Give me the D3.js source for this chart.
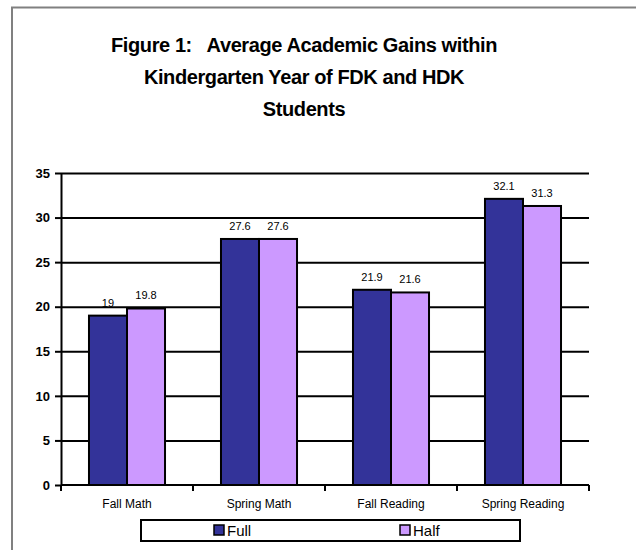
<!DOCTYPE html>
<html>
<head>
<meta charset="utf-8">
<script src="https://cdn.jsdelivr.net/npm/d3@7"></script>
<style>
  body { margin: 0; background: #fff; }
  text { font-family: Arial, "Liberation Sans", sans-serif; }
</style>
</head>
<body>
<div id="chart"></div>
<script>
// data
const categories = ["Fall Math", "Spring Math", "Fall Reading", "Spring Reading"];
const seriesNames = ["Full", "Half"];
const fullValues = [19, 27.6, 21.9, 32.1];
const halfValues = [19.8, 27.6, 21.6, 31.3];
const yTicks = [0, 5, 10, 15, 20, 25, 30, 35];
const titleLines = [
  "Figure 1:   Average Academic Gains within",
  "Kindergarten Year of FDK and HDK",
  "Students"
];
const colors = ["#333399", "#CC99FF"];

const W = 636, H = 550;
const plot = { left: 61, right: 589, top: 173, bottom: 485 };

const svg = d3.select("#chart").append("svg")
  .attr("width", W)
  .attr("height", H);

svg.append("rect").attr("width", W).attr("height", H).attr("fill", "#fff");

// chart area frame (runs past the right and bottom edge)
svg.append("rect")
  .attr("x", 12).attr("y", 7.5)
  .attr("width", 700).attr("height", 600)
  .attr("fill", "none")
  .attr("stroke", "#808080")
  .attr("stroke-width", 2);

// title
svg.append("g").selectAll("text")
  .data(titleLines)
  .join("text")
  .attr("x", 304)
  .attr("y", (d, i) => 52 + i * 32)
  .attr("text-anchor", "middle")
  .attr("font-size", 20)
  .attr("font-weight", "bold")
  .attr("letter-spacing", -0.4)
  .style("white-space", "pre")
  .text(d => d);

// scales
const y = d3.scaleLinear().domain([0, 35]).range([plot.bottom, plot.top]);
const x0 = d3.scaleBand().domain(categories)
  .range([plot.left, plot.right])
  .paddingInner(0.424).paddingOuter(0.212);
const x1 = d3.scaleBand().domain(seriesNames).range([0, x0.bandwidth()]);

// gridlines
svg.append("g")
  .attr("transform", `translate(${plot.left},0)`)
  .call(d3.axisLeft(y).tickValues(yTicks.slice(1)).tickSize(-(plot.right - plot.left)).tickFormat(""))
  .call(g => g.select(".domain").remove())
  .call(g => g.selectAll("line").attr("stroke", "#000").attr("stroke-width", 2));

// y axis
svg.append("g")
  .attr("transform", `translate(${plot.left},0)`)
  .call(d3.axisLeft(y).tickValues(yTicks).tickSize(6).tickPadding(5).tickSizeOuter(0))
  .call(g => g.select(".domain").attr("stroke", "#000").attr("stroke-width", 2))
  .call(g => g.selectAll(".tick line").attr("stroke", "#000").attr("stroke-width", 2))
  .call(g => g.selectAll("text")
    .attr("font-family", "Arial, 'Liberation Sans', sans-serif")
    .attr("font-size", 13).attr("font-weight", "bold").attr("fill", "#000"));

// bars
const rows = categories.map((c, i) => ({ cat: c, vals: [fullValues[i], halfValues[i]] }));
const groups = svg.append("g").selectAll("g")
  .data(rows)
  .join("g")
  .attr("transform", d => `translate(${x0(d.cat)},0)`);

groups.selectAll("rect")
  .data(d => d.vals.map((v, j) => ({ key: seriesNames[j], v, j })))
  .join("rect")
  .attr("x", d => x1(d.key))
  .attr("y", d => y(d.v))
  .attr("width", x1.bandwidth())
  .attr("height", d => y(0) - y(d.v))
  .attr("fill", d => colors[d.j])
  .attr("stroke", "#000")
  .attr("stroke-width", 2);

groups.selectAll("text")
  .data(d => d.vals.map((v, j) => ({ key: seriesNames[j], v, j })))
  .join("text")
  .attr("x", d => x1(d.key) + x1.bandwidth() / 2)
  .attr("y", d => y(d.v) - 9)
  .attr("text-anchor", "middle")
  .attr("font-size", 11)
  .attr("fill", "#000")
  .text(d => d.v);

// x axis, ticks sit between categories
const step = x0.step();
const xTicks = d3.range(categories.length + 1).map(i => plot.left + i * step);
svg.append("line")
  .attr("x1", plot.left).attr("x2", plot.right)
  .attr("y1", plot.bottom).attr("y2", plot.bottom)
  .attr("stroke", "#000").attr("stroke-width", 2);
svg.append("g").selectAll("line")
  .data(xTicks)
  .join("line")
  .attr("x1", d => d).attr("x2", d => d)
  .attr("y1", plot.bottom).attr("y2", plot.bottom + 6)
  .attr("stroke", "#000").attr("stroke-width", 2);
svg.append("g").selectAll("text")
  .data(categories)
  .join("text")
  .attr("x", d => x0(d) + x0.bandwidth() / 2)
  .attr("y", plot.bottom + 23)
  .attr("text-anchor", "middle")
  .attr("font-size", 12)
  .text(d => d);

// legend
const legend = svg.append("g");
legend.append("rect")
  .attr("x", 141).attr("y", 520)
  .attr("width", 379).attr("height", 21)
  .attr("fill", "#fff")
  .attr("stroke", "#000").attr("stroke-width", 2);
const legendX = [214, 400];
seriesNames.forEach((s, i) => {
  legend.append("rect")
    .attr("x", legendX[i]).attr("y", 525)
    .attr("width", 10).attr("height", 10)
    .attr("fill", colors[i])
    .attr("stroke", "#000").attr("stroke-width", 1.5);
  legend.append("text")
    .attr("x", legendX[i] + 13).attr("y", 536)
    .attr("font-size", 15)
    .text(s);
});
</script>
</body>
</html>
